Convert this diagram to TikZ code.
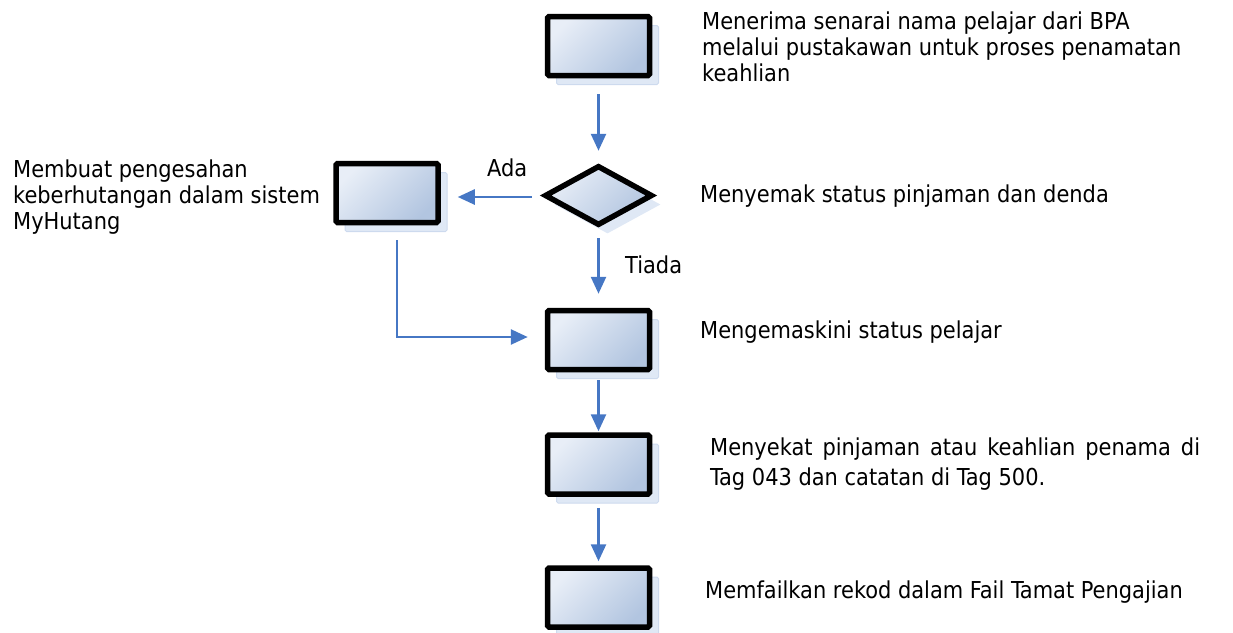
\documentclass[tikz,border=0pt]{standalone}
\usepackage{fontspec}
\setmainfont{DejaVu Sans Condensed}
\usetikzlibrary{arrows.meta,shapes.geometric,shadows,calc}
\definecolor{gradlight}{HTML}{E8EEF7}
\definecolor{graddark}{HTML}{B2C5E0}
\definecolor{shadowfill}{HTML}{DFE8F5}
\definecolor{shadowline}{HTML}{CDDAEE}
\definecolor{arrowblue}{HTML}{4677C4}
\tikzset{
  procbox/.style={rectangle, draw=black, line width=5.5pt, rounded corners=1.5pt,
    minimum width=102pt, minimum height=59pt, inner sep=0pt,
    top color=gradlight, bottom color=graddark, shading angle=45,
    general shadow={shadow xshift=9pt, shadow yshift=-9pt, fill=shadowfill, draw=shadowline, line width=1pt}},
  decbox/.style={diamond, draw=black, line width=5.5pt, inner sep=0pt,
    minimum width=108pt, minimum height=60pt,
    top color=gradlight, bottom color=graddark, shading angle=45,
    general shadow={shadow xshift=9pt, shadow yshift=-9pt, fill=shadowfill, draw=none}},
  flowarrow/.style={draw=arrowblue, line width=2.6pt, -{Triangle[length=17pt,width=15pt]}},
  desc/.style={anchor=base west, inner sep=0pt, align=left, font=\fontsize{23.3}{26}\selectfont},
  lbl/.style={anchor=base west, inner sep=0pt, font=\fontsize{23.3}{26}\selectfont},
}
\begin{document}
\begin{tikzpicture}[x=1pt,y=-1pt]
\useasboundingbox (0,0) rectangle (1233,632);
% process shapes
\node[procbox] (b1) at (598.5,46) {};
\node[decbox]  (d1) at (598.5,195.5) {};
\node[procbox] (b2) at (387,193) {};
\node[procbox] (b3) at (598.5,340) {};
\node[procbox] (b4) at (598.5,464.5) {};
\node[procbox] (b5) at (598.5,597.5) {};
% descriptions (base anchor = last line)
\node[desc] (t1) at (702,81) {Menerima senarai nama pelajar dari BPA\\melalui pustakawan untuk proses penamatan\\keahlian};
\node[desc] (t2) at (700,202) {Menyemak status pinjaman dan denda};
\node[desc] (t3) at (13,229) {Membuat pengesahan\\keberhutangan dalam sistem\\MyHutang};
\node[desc] (t4) at (700,338) {Mengemaskini status pelajar};
\node[anchor=base west, inner sep=0pt, text width=490pt, align=justify, font=\fontsize{23.3}{30}\selectfont] (t5) at (710,455)
  {\hyphenpenalty=10000\parindent=0pt Menyekat pinjaman atau keahlian penama di Tag 043 dan catatan di Tag 500.};
\node[desc] (t6) at (705,598) {Memfailkan rekod dalam Fail Tamat Pengajian};
% labels
\node[lbl] (ada) at (487,176) {Ada};
\node[lbl] (tiada) at (625,273) {Tiada};
% connectors
\draw[flowarrow] ([yshift=-16pt]b1.south) -- ([yshift=12pt]d1.north);
\draw[flowarrow, shorten <=10pt, shorten >=17pt] ([yshift=-1.5pt]d1.west) -- ([yshift=-1.5pt]d1.west -| b2.east);
\draw[flowarrow] ([yshift=-10pt]d1.south) -- ([yshift=14pt]b3.north);
\draw[flowarrow] ([xshift=10pt,yshift=-15pt]b2.south) |- ([xshift=-17pt,yshift=3pt]b3.west);
\draw[flowarrow] ([yshift=-8pt]b3.south) -- ([yshift=1pt]b4.north);
\draw[flowarrow] ([yshift=-11pt]b4.south) -- ([yshift=4pt]b5.north);
\end{tikzpicture}
\end{document}
